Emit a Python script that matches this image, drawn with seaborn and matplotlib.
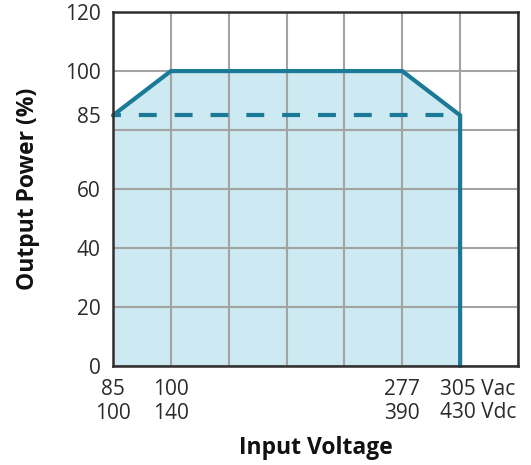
import seaborn as sns
import pandas as pd
import matplotlib.pyplot as plt

# schematic x positions (grid columns) for the breakpoints
pos = [0, 1, 5, 6]
vac = ['85', '100', '277', '305 Vac']
vdc = ['100', '140', '390', '430 Vdc']
power = [85, 100, 100, 85]
derated = 85
y_labels = [0, 20, 40, 60, 85, 100, 120]

line_col = '#1a7a97'
fill_col = '#cde9f1'
text_col = '#2b2b2b'

sns.set_style('white')
plt.rcParams['font.family'] = ['Open Sans', 'DejaVu Sans']

fig = plt.figure(figsize=(5.31, 4.65), dpi=100)
ax = fig.add_axes([0.2128, 0.2129, 0.7627, 0.7611])

df = pd.DataFrame({'x': pos + [pos[-1]], 'y': power + [0]})
ax.fill_between(pos, power, color=fill_col, zorder=1, lw=0)
sns.lineplot(data=df, x='x', y='y', sort=False, estimator=None, color=line_col,
             lw=3, ax=ax, zorder=4, clip_on=False, solid_joinstyle='miter')
ax.plot([pos[0], pos[-1]], [derated, derated], color=line_col, lw=3,
        linestyle=(2.4, (4.3, 4.3)), zorder=4)

ax.set_xlim(0, 7)
ax.set_ylim(0, 120)

ax.xaxis.remove_overlapping_locs = False
ax.yaxis.remove_overlapping_locs = False
ax.set_xticks(range(0, 8), minor=True)
ax.set_yticks(range(0, 121, 20), minor=True)
ax.grid(which='minor', color='#a3a3a3', lw=1.5)
ax.grid(which='major', visible=False)
ax.set_axisbelow(False)

ax.set_yticks(y_labels)
ax.set_yticklabels([str(v) for v in y_labels], fontsize=15, color=text_col)
ax.set_xticks(pos)
ax.set_xticklabels([a + '\n' + d for a, d in zip(vac[:-1], vdc[:-1])] + [''],
                   fontsize=15, color=text_col, linespacing=1.15)
# last label: number centred on tick, unit hanging to the right
ax.annotate(vac[-1] + '\n' + vdc[-1], xy=(pos[-1], 0), xycoords=('data', 'axes fraction'),
            xytext=(-20, -13), textcoords='offset pixels', ha='left', va='top',
            fontsize=15, color=text_col, linespacing=1.15)

ax.tick_params(which='both', length=0)
ax.tick_params(axis='y', pad=9)
ax.tick_params(axis='x', pad=9.5)

for s in ax.spines.values():
    s.set_color('#2e2e2e')
    s.set_linewidth(1.8)
    s.set_zorder(5)

ax.set_xlabel('Input Voltage', fontsize=16.5, fontweight='bold', color='#111111', labelpad=9)
ax.set_ylabel('Output Power (%)', fontsize=16.5, fontweight='bold', color='#111111', labelpad=18)

plt.savefig('out.png', dpi=100)
